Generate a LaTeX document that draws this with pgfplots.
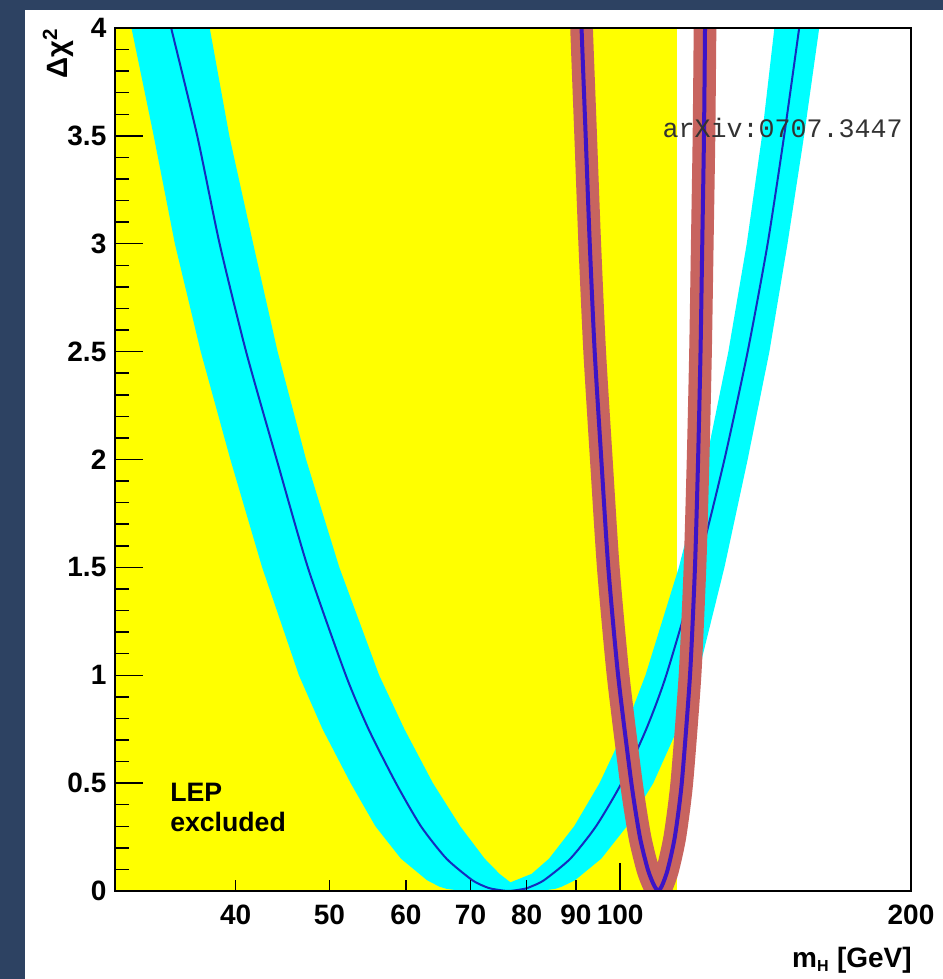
\documentclass[border=0pt]{standalone}
\usepackage{fontspec}
\setmainfont{Liberation Sans}
\newfontfamily\monofont{Liberation Mono}
\usepackage{pgfplots}
\pgfplotsset{compat=1.18}
\definecolor{slide}{RGB}{45,66,98}
\definecolor{bandcyan}{RGB}{0,255,255}
\definecolor{lepyellow}{RGB}{255,255,0}
\definecolor{cyanline}{RGB}{20,45,190}
\definecolor{redband}{RGB}{200,100,95}
\definecolor{redline}{RGB}{60,20,200}
\begin{document}
\begin{tikzpicture}
\begin{scope}[x=0.75bp,y=0.75bp]
\fill[slide] (0,0) rectangle (943,979);
\fill[white] (25,0) rectangle (943,969);
\end{scope}
\begin{axis}[
  at={(86.25bp,66bp)}, anchor=south west,
  scale only axis, width=597bp, height=647.25bp,
  xmode=log, xmin=30, xmax=200, ymin=0, ymax=4,
  axis on top,
  xtick={100}, xticklabels={100},
  extra x ticks={40,50,60,70,80,90,200},
  extra x tick labels={40,50,60,70,80,90,200},
  extra x tick style={major tick length=8.25bp},
  ytick={0,0.5,1,1.5,2,2.5,3,3.5,4},
  yticklabels={0,0.5,1,1.5,2,2.5,3,3.5,4},
  minor y tick num=4,
  xtick pos=bottom, ytick pos=left,
  tick align=inside,
  major tick length=21bp, minor tick length=10.5bp,
  every tick/.style={black, line width=1.1bp},
  axis line style={black, line width=1.2bp},
  ticklabel style={font=\bfseries\fontsize{21bp}{24bp}\selectfont},
  xticklabel style={yshift=-7bp},
  yticklabel style={xshift=-3bp},
]
% LEP excluded region
\addplot[fill=lepyellow, draw=none] coordinates {(30,0) (114.4,0) (114.4,4) (30,4)} --cycle;
% cyan band
\addplot[fill=bandcyan, draw=none] coordinates {
 (31.2,4) (32.9,3.5) (34.6,3) (36.8,2.5) (39.5,2) (42.6,1.5) (46.5,1) (49.2,0.75) (52.6,0.5)
 (55.8,0.3) (59.3,0.15) (63.1,0.05) (65.0,0.02) (66.1,0.01) (68.7,0) (82.5,0) (85.7,0.01)
 (87.0,0.02) (89.8,0.05) (95.6,0.15) (101.6,0.3) (108.2,0.5) (114.6,0.75) (120.3,1) (128.2,1.5)
 (135.5,2) (142.7,2.5) (149.0,3) (155.0,3.5) (160.7,4)
 (144.4,4) (140.2,3.5) (135.2,3) (129.4,2.5) (122.8,2) (115.0,1.5) (106.2,1) (101.1,0.75)
 (95.2,0.5) (89.6,0.3) (84.4,0.15) (81.0,0.08) (77.0,0.04) (75.0,0.08) (72.4,0.15) (68.3,0.3)
 (64.0,0.5) (59.8,0.75) (56.3,1) (51.2,1.5) (47.3,2) (44.2,2.5) (41.7,3) (39.4,3.5) (37.6,4)
} --cycle;
% central line of cyan band
\addplot[cyanline, line width=1.5bp, smooth, tension=0.4] coordinates {
 (33.9,4.1) (34.3,4) (36.5,3.5) (38.5,3) (41.0,2.5) (44.1,2) (47.5,1.5) (52.0,1) (54.9,0.75)
 (58.6,0.5) (62.2,0.3) (66.1,0.15) (70.3,0.05) (72.5,0.02) (73.7,0.01) (76.6,0) (79.6,0.01)
 (80.8,0.02) (83.4,0.05) (88.8,0.15) (94.4,0.3) (100.3,0.5) (106.4,0.75) (111.6,1) (120.3,1.5)
 (128.2,2) (135.5,2.5) (142.1,3) (147.8,3.5) (153.2,4) (154.3,4.1)
};
% red band
\addplot[redband, line width=17bp, line join=round, smooth, tension=0.4] coordinates {
 (90.8,4.3) (91.2,4) (92.1,3.5) (93.0,3) (94.1,2.5) (95.6,2) (97.2,1.5) (99.5,1) (102.7,0.5)
 (104.8,0.25) (106.8,0.1) (108.3,0.03) (109.5,0) (110.6,0.03) (112.0,0.1) (113.9,0.25)
 (115.8,0.5) (118.1,1) (119.5,1.5) (120.4,2) (121.1,2.5) (121.6,3) (122.1,3.5) (122.4,4) (122.5,4.3)
};
% central line of red band
\addplot[redline, line width=3bp, smooth, tension=0.4] coordinates {
 (90.8,4.3) (91.2,4) (92.1,3.5) (93.0,3) (94.1,2.5) (95.6,2) (97.2,1.5) (99.5,1) (102.7,0.5)
 (104.8,0.25) (106.8,0.1) (108.3,0.03) (109.5,0) (110.6,0.03) (112.0,0.1) (113.9,0.25)
 (115.8,0.5) (118.1,1) (119.5,1.5) (120.4,2) (121.1,2.5) (121.6,3) (122.1,3.5) (122.4,4) (122.5,4.3)
};
\end{axis}
\begin{scope}[x=0.75bp,y=0.75bp]
\node[rotate=90, anchor=east, inner sep=0pt, font=\bfseries\fontsize{22bp}{24bp}\selectfont] at (58,951) {Δχ\textsuperscript{2}};
\node[anchor=base east, inner sep=0pt, font=\bfseries\fontsize{21bp}{24bp}\selectfont] at (912,12) {m\textsubscript{\fontsize{12bp}{12bp}\selectfont H} [GeV]};
\node[anchor=base west, inner sep=0pt, font=\bfseries\fontsize{20bp}{24bp}\selectfont] at (170,177) {LEP};
\node[anchor=base west, inner sep=0pt, font=\bfseries\fontsize{20bp}{24bp}\selectfont] at (170,147) {excluded};
\node[anchor=base east, inner sep=0pt, text=black!80, font=\monofont\fontsize{20bp}{24bp}\selectfont] at (903,841) {arXiv:0707.3447};
\end{scope}
\pgfresetboundingbox
\path (0,0) rectangle (707.25bp,734.25bp);
\end{tikzpicture}
\end{document}
